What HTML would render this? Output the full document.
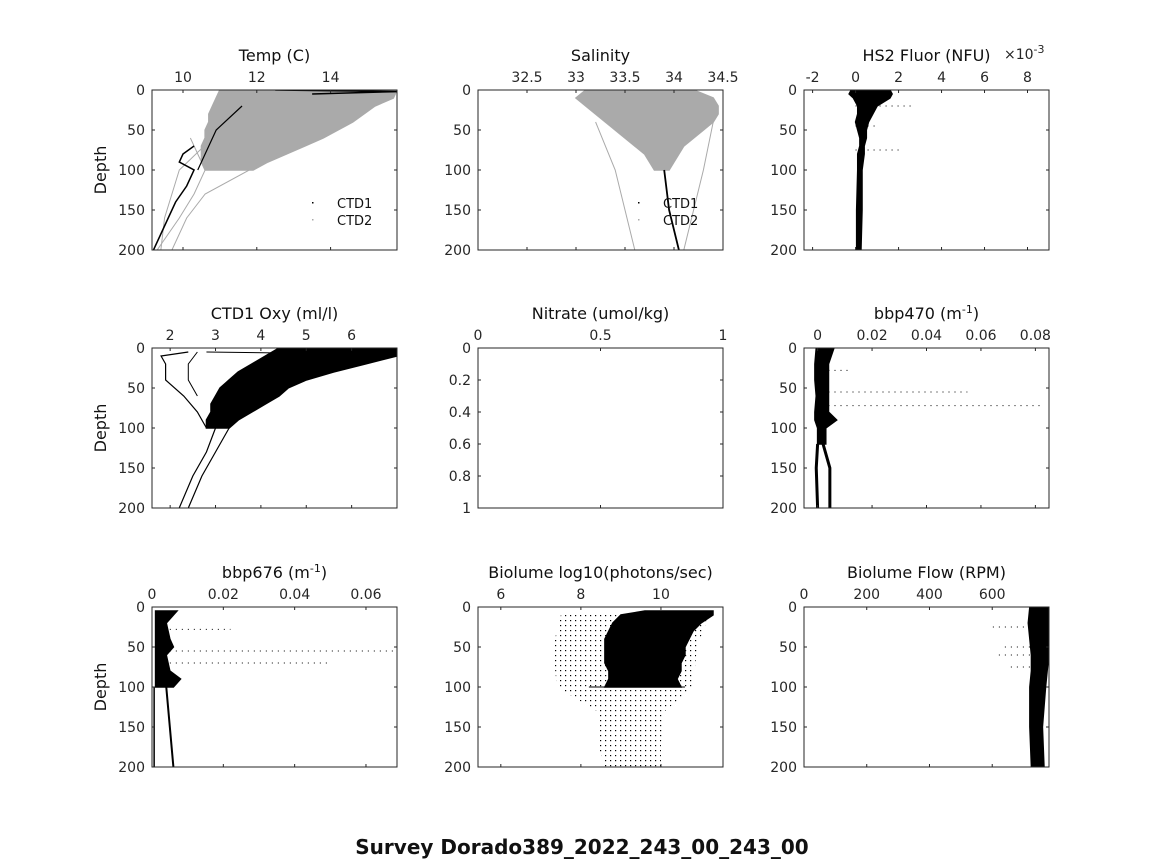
<!DOCTYPE html>
<html><head><meta charset="utf-8">
<style>
html,body{margin:0;padding:0;background:#fff;}
svg{display:block;font-family:"DejaVu Sans","Liberation Sans",sans-serif;}
</style></head>
<body>
<svg id="fig" width="1164" height="864" viewBox="0 0 1164 864">
<rect width="1164" height="864" fill="#fff"/>
<text x="582" y="854" text-anchor="middle" font-size="20" font-weight="bold" fill="#111">Survey Dorado389_2022_243_00_243_00</text>
</svg>
<script>
// ---- data ----
const tempDepth=[0,10,20,30,40,50,60,70,80,90,100];
const tempGrayMin=[11.0,10.9,10.8,10.7,10.7,10.6,10.6,10.5,10.5,10.5,10.6];
const tempGrayMax=[15.8,15.7,15.2,14.9,14.6,14.2,13.8,13.3,12.8,12.3,11.9];
const tempDeepD=[70,80,90,100,120,140,160,180,200];
const tempDeepT=[10.3,10.0,9.9,10.3,10.1,9.8,9.6,9.4,9.2];
const tempGrayLineD=[60,100,130,160,200];
const tempGrayLineA=[10.2,10.6,10.3,9.9,9.3];
const tempGrayLineB=[11.0,11.8,10.6,10.1,9.7];
const tempGrayLineC=[10.8,9.9,9.7,9.5,9.4];

const salDepth=[0,10,20,30,40,50,60,70,80,90,100];
const salMin=[33.1,33.0,33.1,33.2,33.3,33.4,33.5,33.6,33.7,33.75,33.8];
const salMax=[34.2,34.4,34.45,34.45,34.4,34.3,34.2,34.1,34.05,34.0,33.95];
const salDeepD=[100,150,200];
const salDeepS=[33.9,33.95,34.05];
const salGrayLineD=[40,100,150,200];
const salGrayLineA=[33.2,33.4,33.5,33.6];
const salGrayLineB=[34.4,34.3,34.2,34.1];

const fluDepth=[0,5,10,20,30,40,50,60,70,80,100,150,200];
const fluMin=[-0.2,-0.3,-0.1,0.1,0.1,0.0,0.1,0.2,0.2,0.1,0.1,0.05,0.05];
const fluMax=[1.6,1.7,1.6,1.0,0.8,0.6,0.5,0.5,0.4,0.4,0.3,0.3,0.25];
const fluOutD=[20,45,75];
const fluOutV=[2.6,1.0,2.0];

const oxyDepth=[0,10,20,30,40,50,60,70,80,90,100];
const oxyMin=[4.4,4.1,3.8,3.5,3.3,3.1,3.0,2.9,2.9,2.8,2.8];
const oxyMax=[7.0,7.0,6.3,5.6,5.0,4.6,4.4,4.1,3.8,3.5,3.3];
const oxyLoopD=[5,10,20,40,60,80,100];
const oxyLoopV=[2.4,1.8,1.9,1.9,2.3,2.6,2.8];
const oxyDeepD=[100,130,160,200];
const oxyDeepA=[3.0,2.8,2.5,2.2];
const oxyDeepB=[3.3,3.0,2.7,2.4];

const b470Depth=[0,20,40,60,80,90,100,120];
const b470Min=[-0.0005,-0.001,-0.001,-0.0005,-0.001,-0.001,0.0,0.0];
const b470Max=[0.006,0.004,0.004,0.004,0.004,0.007,0.003,0.003];
const b470DeepD=[120,150,200];
const b470DeepA=[0.0,-0.0005,0.0];
const b470DeepB=[0.002,0.0045,0.0045];
const b470OutD=[28,55,72];
const b470OutV=[0.012,0.055,0.082];

const b676Depth=[5,10,20,40,50,60,80,90,100];
const b676Min=[0.001,0.001,0.001,0.001,0.001,0.001,0.001,0.001,0.001];
const b676Max=[0.007,0.006,0.004,0.005,0.006,0.004,0.005,0.008,0.006];
const b676DeepD=[100,150,200];
const b676DeepV=[0.004,0.005,0.006];
const b676OutD=[28,55,70];
const b676OutV=[0.022,0.068,0.05];

const bioDepth=[5,10,20,30,40,50,60,70,80,90,100];
const bioMin=[9.6,9.0,8.8,8.7,8.6,8.6,8.6,8.6,8.7,8.7,8.6];
const bioMax=[11.3,11.3,11.0,10.8,10.7,10.6,10.6,10.5,10.5,10.4,10.5];
const bioSparseD=[10,50,100,130,170,200];
const bioSparseMin=[7.5,7.3,7.4,8.4,8.4,8.6];
const bioSparseMax=[11.2,10.9,10.8,10.1,10.0,10.0];

const flowDepth=[0,20,40,60,80,100,150,200];
const flowMin=[720,715,720,725,725,720,720,725];
const flowMax=[780,780,780,780,775,770,760,765];
const flowOutD=[25,50,60,75];
const flowOutV=[600,640,610,650];

// ---- drawing ----
const NS='http://www.w3.org/2000/svg';
const svg=document.getElementById('fig');
function mk(tag,attrs,parent){const e=document.createElementNS(NS,tag);for(const k in attrs)e.setAttribute(k,attrs[k]);(parent||svg).appendChild(e);return e;}
const defs=mk('defs',{});
const pat2=mk('pattern',{id:'dots2',width:5,height:5,patternUnits:'userSpaceOnUse'},defs);
mk('rect',{x:0,y:0,width:1.2,height:1.2,fill:'#000'},pat2);

const colX=[152,478,804], rowY=[90,348,607], W=245, H=160;

function panel(o){
  const L=colX[o.c],T=rowY[o.r];
  const g=mk('g',{});
  
  
  const x=v=>L+(v-o.x0)/(o.x1-o.x0)*W;
  const y=d=>T+(d-o.y0)/(o.y1-o.y0)*H;
  const clipId='clip'+o.r+o.c;
  const cp=mk('clipPath',{id:clipId},defs);
  mk('rect',{x:L,y:T,width:W,height:H},cp);
  const plot=mk('g',{'clip-path':'url(#'+clipId+')'},g);
  
  
  if(o.draw)o.draw(plot,x,y);
  const box=mk('rect',{x:L,y:T,width:W,height:H,fill:'none',stroke:'#262626','stroke-width':1},g);
  
  
  o.xt.forEach((v,i)=>{
    const px=x(v);
    mk('line',{x1:px,y1:T,x2:px,y2:T+3,stroke:'#262626'},g);
    mk('line',{x1:px,y1:T+H,x2:px,y2:T+H-3,stroke:'#262626'},g);
    const t=mk('text',{x:px,y:T-8,'text-anchor':'middle','font-size':14,fill:'#262626'},g);
    t.textContent=o.xl[i];
    
    
  });
  o.yt.forEach((v,i)=>{
    const py=y(v);
    mk('line',{x1:L,y1:py,x2:L+3,y2:py,stroke:'#262626'},g);
    mk('line',{x1:L+W,y1:py,x2:L+W-3,y2:py,stroke:'#262626'},g);
    const t=mk('text',{x:L-7,y:py+5,'text-anchor':'end','font-size':14,fill:'#262626'},g);
    t.textContent=o.yl[i];
    
    
  });
  const tt=mk('text',{x:L+W/2,y:T-29,'text-anchor':'middle','font-size':16,fill:'#111'},g);
  tt.innerHTML=o.title;
  
  
  if(o.c===0){
    const yt=mk('text',{x:0,y:0,'text-anchor':'middle','font-size':16,fill:'#111',transform:'translate('+(L-46)+','+(T+H/2)+') rotate(-90)'},g);
    yt.textContent='Depth';
    
    
  }
  if(o.extra)o.extra(g,L,T);
  return g;
}
function env(p,x,y,D,mn,mx,fill,name){
  let pts=D.map((d,i)=>x(mn[i])+','+y(d));
  for(let i=D.length-1;i>=0;i--)pts.push(x(mx[i])+','+y(D[i]));
  const e=mk('polygon',{points:pts.join(' '),fill:fill,stroke:fill==='#000'||fill==='#aaaaaa'?fill:'none','stroke-width':1.5},p);
  
  
  return e;
}
function line(p,x,y,D,V,col,w,name){
  const e=mk('polyline',{points:D.map((d,i)=>x(V[i])+','+y(d)).join(' '),fill:'none',stroke:col,'stroke-width':w||1.2},p);
  
  
  return e;
}
function outliers(p,x,y,D,V,x0v,name){
  D.forEach((d,i)=>{
    const e=mk('line',{x1:x(x0v),y1:y(d),x2:x(V[i]),y2:y(d),stroke:'#000','stroke-width':1,'stroke-dasharray':'1 5'},p);
    
    
  });
}
function legend(g,L,T){
  const items=[['CTD1','#000'],['CTD2','#aaa']];
  items.forEach((it,i)=>{
    const yy=T+113+i*17;
    mk('rect',{x:L+160,y:yy-1,width:1.5,height:1.5,fill:it[1]},g);
    const t=mk('text',{x:L+185,y:yy+5,'font-size':13,fill:'#111'},g);
    t.textContent=it[0];
    
    
  });
}
const depthT=[0,50,100,150,200], depthL=['0','50','100','150','200'];

panel({name:'temp-panel',r:0,c:0,x0:9.16,x1:15.8,y0:0,y1:200,title:'Temp (C)',
  xt:[10,12,14],xl:['10','12','14'],yt:depthT,yl:depthL,extra:legend,
  draw:(p,x,y)=>{
    env(p,x,y,tempDepth,tempGrayMin,tempGrayMax,'#aaaaaa','temp-ctd2-cloud');
    line(p,x,y,tempGrayLineD,tempGrayLineA,'#aaa',1,'temp-ctd2-line');
    line(p,x,y,tempGrayLineD,tempGrayLineB,'#aaa',1,'temp-ctd2-line');
    line(p,x,y,tempGrayLineD,tempGrayLineC,'#aaa',1,'temp-ctd2-line');
    line(p,x,y,tempDeepD,tempDeepT,'#000',1.5,'temp-ctd1-line');
    line(p,x,y,[0,2,5],[12.5,15.8,13.5],'#000',1.5,'temp-ctd1-surface');
    line(p,x,y,[20,50,80,100],[11.6,10.9,10.6,10.4],'#000',1.2,'temp-ctd1-line');
  }});
panel({name:'salinity-panel',r:0,c:1,x0:32.0,x1:34.5,y0:0,y1:200,title:'Salinity',
  xt:[32.5,33,33.5,34,34.5],xl:['32.5','33','33.5','34','34.5'],yt:depthT,yl:depthL,extra:legend,
  draw:(p,x,y)=>{
    env(p,x,y,salDepth,salMin,salMax,'#aaaaaa','salinity-ctd2-cloud');
    line(p,x,y,salGrayLineD,salGrayLineA,'#aaa',1,'salinity-ctd2-line');
    line(p,x,y,salGrayLineD,salGrayLineB,'#aaa',1,'salinity-ctd2-line');
    line(p,x,y,salDeepD,salDeepS,'#000',1.8,'salinity-ctd1-line');
  }});
panel({name:'fluor-panel',r:0,c:2,x0:-2.4,x1:9.0,y0:0,y1:200,title:'HS2 Fluor (NFU)',
  xt:[-2,0,2,4,6,8],xl:['-2','0','2','4','6','8'],yt:depthT,yl:depthL,
  extra:(g,L,T)=>{const t=mk('text',{x:L+W-45,y:T-31,'font-size':14,fill:'#262626'},g);t.innerHTML='×10<tspan dy="-6" font-size="11">-3</tspan>';},
  draw:(p,x,y)=>{
    env(p,x,y,fluDepth,fluMin,fluMax,'#000','fluor-cloud');
    outliers(p,x,y,fluOutD,fluOutV,0,'fluor-outlier');
  }});
panel({name:'oxygen-panel',r:1,c:0,x0:1.6,x1:7.0,y0:0,y1:200,title:'CTD1 Oxy (ml/l)',
  xt:[2,3,4,5,6],xl:['2','3','4','5','6'],yt:depthT,yl:depthL,
  draw:(p,x,y)=>{
    env(p,x,y,oxyDepth,oxyMin,oxyMax,'#000','oxygen-cloud');
    line(p,x,y,oxyLoopD,oxyLoopV,'#000',1.2,'oxygen-line');
    line(p,x,y,[5,20,40,60],[2.6,2.4,2.4,2.6],'#000',1,'oxygen-line');
    line(p,x,y,oxyDeepD,oxyDeepA,'#000',1.2,'oxygen-line');
    line(p,x,y,oxyDeepD,oxyDeepB,'#000',1.2,'oxygen-line');
    line(p,x,y,[5,8],[2.8,7.0],'#000',1,'oxygen-line');
  }});
panel({name:'nitrate-panel',r:1,c:1,x0:0,x1:1,y0:0,y1:1,title:'Nitrate (umol/kg)',
  xt:[0,0.5,1],xl:['0','0.5','1'],yt:[0,0.2,0.4,0.6,0.8,1],yl:['0','0.2','0.4','0.6','0.8','1']});
panel({name:'bbp470-panel',r:1,c:2,x0:-0.005,x1:0.085,y0:0,y1:200,title:'bbp470 (m<tspan dy="-6" font-size="11">-1</tspan><tspan dy="6">)</tspan>',
  xt:[0,0.02,0.04,0.06,0.08],xl:['0','0.02','0.04','0.06','0.08'],yt:depthT,yl:depthL,
  draw:(p,x,y)=>{
    env(p,x,y,b470Depth,b470Min,b470Max,'#000','bbp470-cloud');
    line(p,x,y,b470DeepD,b470DeepA,'#000',3,'bbp470-line');
    line(p,x,y,b470DeepD,b470DeepB,'#000',3,'bbp470-line');
    outliers(p,x,y,b470OutD,b470OutV,0.004,'bbp470-outlier');
  }});
panel({name:'bbp676-panel',r:2,c:0,x0:0,x1:0.0687,y0:0,y1:200,title:'bbp676 (m<tspan dy="-6" font-size="11">-1</tspan><tspan dy="6">)</tspan>',
  xt:[0,0.02,0.04,0.06],xl:['0','0.02','0.04','0.06'],yt:depthT,yl:depthL,
  draw:(p,x,y)=>{
    env(p,x,y,b676Depth,b676Min,b676Max,'#000','bbp676-cloud');
    line(p,x,y,b676DeepD,b676DeepV,'#000',2,'bbp676-line');
    line(p,x,y,[100,200],[0.0006,0.0006],'#000',1.5,'bbp676-line');
    outliers(p,x,y,b676OutD,b676OutV,0.005,'bbp676-outlier');
  }});
panel({name:'biolume-panel',r:2,c:1,x0:5.43,x1:11.55,y0:0,y1:200,title:'Biolume log10(photons/sec)',
  xt:[6,8,10],xl:['6','8','10'],yt:depthT,yl:depthL,
  draw:(p,x,y)=>{
    env(p,x,y,bioSparseD,bioSparseMin,bioSparseMax,'url(#dots2)','biolume-sparse-points');
    env(p,x,y,bioDepth,bioMin,bioMax,'#000','biolume-cloud');
    line(p,x,y,[100,100],[8.2,10.6],'#000',1,'biolume-line');
  }});
panel({name:'flow-panel',r:2,c:2,x0:0,x1:781,y0:0,y1:200,title:'Biolume Flow (RPM)',
  xt:[0,200,400,600],xl:['0','200','400','600'],yt:depthT,yl:depthL,
  draw:(p,x,y)=>{
    env(p,x,y,flowDepth,flowMin,flowMax,'#000','flow-cloud');
    outliers(p,x,y,flowOutD,flowOutV,720,'flow-outlier');
  }});
</script>
</body></html>
